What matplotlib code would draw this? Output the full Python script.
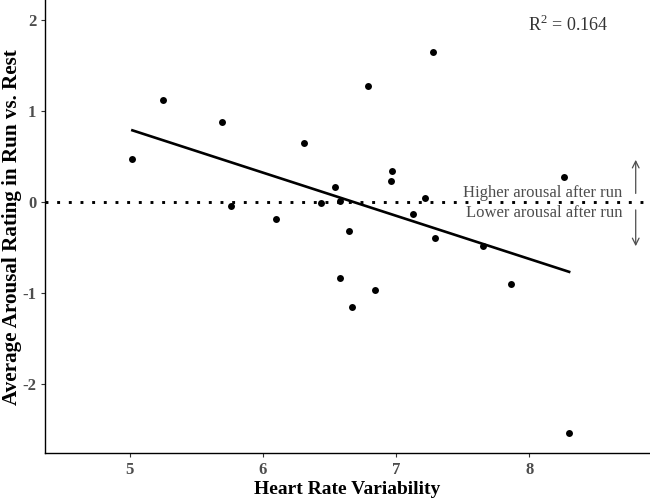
import numpy as np
import matplotlib
matplotlib.use("Agg")
import matplotlib.pyplot as plt

# heart rate variability vs. arousal difference (run - rest)
hrv = [5.02, 5.25, 5.69, 5.76, 6.10, 6.31, 6.44, 6.54, 6.58, 6.58, 6.65, 6.67,
       6.79, 6.84, 6.96, 6.97, 7.13, 7.22, 7.28, 7.29, 7.65, 7.86, 8.26, 8.30]
arousal = [0.47, 1.12, 0.88, -0.05, -0.19, 0.64, -0.01, 0.16, 0.01, -0.84, -0.32, -1.16,
           1.27, -0.97, 0.23, 0.34, -0.14, 0.04, 1.64, -0.40, -0.49, -0.90, 0.27, -2.54]
x_ticks = [5, 6, 7, 8]
y_ticks = [-2, -1, 0, 1, 2]
r2_label = "R$^2$ = 0.164"

plt.rcParams['font.family'] = ['Liberation Serif', 'DejaVu Serif']
plt.rcParams['mathtext.fontset'] = 'custom'
plt.rcParams['mathtext.rm'] = 'Liberation Serif'
plt.rcParams['axes.unicode_minus'] = False

fig = plt.figure(figsize=(6.5, 4.98), dpi=100)
ax = fig.add_axes([0.0697, 0.0898, 0.9288, 0.9102])

x = np.array(hrv)
y = np.array(arousal)
slope, icpt = np.polyfit(x, y, 1)
xs = np.array([x.min(), x.max()])

ax.axhline(0, color='black', lw=2.1, linestyle=(0, (1, 3.0)), zorder=1)
ax.plot(xs, slope * xs + icpt, color='black', lw=1.9, zorder=2)
ax.scatter(x, y, s=25, color='black', zorder=3, linewidths=0)

grey = '#4D4D4D'
ax.text(8.70, 0.09, "Higher arousal after run", ha='right', va='center', fontsize=12, color=grey)
ax.text(8.70, -0.12, "Lower arousal after run", ha='right', va='center', fontsize=12, color=grey)
ax.annotate("", xy=(8.80, 0.49), xytext=(8.80, 0.06),
            arrowprops=dict(arrowstyle='->', color=grey, lw=0.9, mutation_scale=12))
ax.annotate("", xy=(8.80, -0.52), xytext=(8.80, -0.06),
            arrowprops=dict(arrowstyle='->', color=grey, lw=0.9, mutation_scale=12))
ax.text(8.29, 1.94, r2_label, ha='center', va='center', fontsize=13, color='#333333')

ax.set_xlim(4.366, 8.9)
ax.set_ylim(-2.765, 2.216)
ax.set_xticks(x_ticks)
ax.set_yticks(y_ticks)
ax.tick_params(colors='#333333', labelcolor=grey, labelsize=12, length=3, width=0.8)
for lab in ax.get_xticklabels() + ax.get_yticklabels():
    lab.set_fontweight('bold')
for s in ['top', 'right']:
    ax.spines[s].set_visible(False)
for s in ['left', 'bottom']:
    ax.spines[s].set_linewidth(1.0)
ax.set_xlabel("Heart Rate Variability", fontsize=14, fontweight='bold', labelpad=2)
ax.set_ylabel("Average Arousal Rating in Run vs. Rest", fontsize=15.2, fontweight='bold')
ax.yaxis.set_label_coords(-0.039, 0.5)

fig.savefig("out.png", dpi=100)
